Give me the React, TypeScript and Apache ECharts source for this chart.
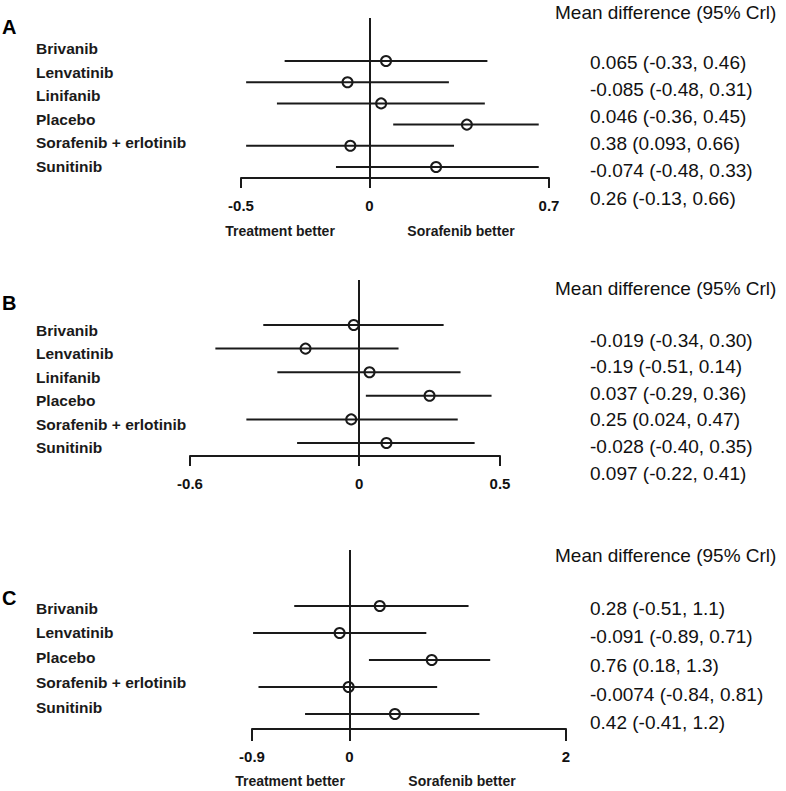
import React, { useEffect, useRef } from 'react';
import * as echarts from 'echarts';

// ---------- data ----------
const drugsA = ['Brivanib', 'Lenvatinib', 'Linifanib', 'Placebo', 'Sorafenib + erlotinib', 'Sunitinib'];
const meanA = [0.065, -0.085, 0.046, 0.38, -0.074, 0.26];
const lowA = [-0.33, -0.48, -0.36, 0.093, -0.48, -0.13];
const highA = [0.46, 0.31, 0.45, 0.66, 0.33, 0.66];
const ticksA = [-0.5, 0, 0.7];

const drugsB = ['Brivanib', 'Lenvatinib', 'Linifanib', 'Placebo', 'Sorafenib + erlotinib', 'Sunitinib'];
const meanB = [-0.019, -0.19, 0.037, 0.25, -0.028, 0.097];
const lowB = [-0.34, -0.51, -0.29, 0.024, -0.4, -0.22];
const highB = [0.3, 0.14, 0.36, 0.47, 0.35, 0.41];
const ticksB = [-0.6, 0, 0.5];

const drugsC = ['Brivanib', 'Lenvatinib', 'Placebo', 'Sorafenib + erlotinib', 'Sunitinib'];
const meanC = [0.28, -0.091, 0.76, -0.0074, 0.42];
const lowC = [-0.51, -0.89, 0.18, -0.84, -0.41];
const highC = [1.1, 0.71, 1.3, 0.81, 1.2];
const ticksC = [-0.9, 0, 2];

const panelLetters = ['A', 'B', 'C'];
const headerText = 'Mean difference (95% Crl)';
const leftNote = 'Treatment better';
const rightNote = 'Sorafenib better';

// ---------- layout (positions only) ----------
const FONT = '"Liberation Sans", Arial, Helvetica, sans-serif';
const INK = '#1a1a1a';

type Layout = {
  letterY: number;
  labelX: number; labelY0: number; labelStep: number;
  gridLeft: number; gridWidth: number; gridTop: number; gridHeight: number;
  rowTop: number; rowStep: number;
  tickMargin: number; tickLen: number;
  notes: boolean; notesY: number; noteLX: number; noteRX: number;
  headerY: number; valY0: number; valStep: number;
};

const layouts: Layout[] = [
  { letterY: 27, labelX: 36, labelY0: 48.5, labelStep: 23.5,
    gridLeft: 241, gridWidth: 308, gridTop: 18, gridHeight: 160,
    rowTop: 61, rowStep: 21.2, tickMargin: 20, tickLen: 10,
    notes: true, notesY: 231, noteLX: 280, noteRX: 461,
    headerY: 12, valY0: 62, valStep: 27.2 },
  { letterY: 303, labelX: 36, labelY0: 330, labelStep: 23.5,
    gridLeft: 190, gridWidth: 310, gridTop: 280, gridHeight: 176,
    rowTop: 325, rowStep: 23.6, tickMargin: 20, tickLen: 10,
    notes: false, notesY: 0, noteLX: 0, noteRX: 0,
    headerY: 288, valY0: 340, valStep: 26.6 },
  { letterY: 598, labelX: 36, labelY0: 608, labelStep: 24.8,
    gridLeft: 252, gridWidth: 314, gridTop: 550, gridHeight: 179,
    rowTop: 606, rowStep: 27, tickMargin: 20, tickLen: 12,
    notes: true, notesY: 781, noteLX: 290, noteRX: 462,
    headerY: 555, valY0: 608, valStep: 28.7 },
];

const panels = [
  { drugs: drugsA, mean: meanA, low: lowA, high: highA, ticks: ticksA },
  { drugs: drugsB, mean: meanB, low: lowB, high: highB, ticks: ticksB },
  { drugs: drugsC, mean: meanC, low: lowC, high: highC, ticks: ticksC },
];

const fmt = (v: number) => Number(v).toPrecision(2);

function buildOption() {
  const grid: any[] = [];
  const xAxis: any[] = [];
  const yAxis: any[] = [];
  const series: any[] = [];
  const graphic: any[] = [];

  panels.forEach((p, i) => {
    const L = layouts[i];
    const n = p.drugs.length;
    const bottom = L.gridTop + L.gridHeight;
    const yMin = -(L.rowTop - L.gridTop) / L.rowStep;
    const yMax = (n - 1) + (bottom - (L.rowTop + (n - 1) * L.rowStep)) / L.rowStep;

    grid.push({ left: L.gridLeft, top: L.gridTop, width: L.gridWidth, height: L.gridHeight, containLabel: false });

    xAxis.push({
      type: 'value', gridIndex: i,
      min: p.ticks[0], max: p.ticks[p.ticks.length - 1],
      axisLine: { show: true, onZero: false, lineStyle: { color: INK, width: 2 } },
      axisTick: { show: true, customValues: p.ticks, length: L.tickLen, inside: false, lineStyle: { color: INK, width: 2 } },
      axisLabel: {
        show: true, customValues: p.ticks, margin: L.tickMargin,
        color: '#111', fontFamily: FONT, fontSize: 15, fontWeight: 'bold',
        formatter: (v: number) => String(v),
        showMinLabel: true, showMaxLabel: true,
      },
      splitLine: { show: false },
    });

    yAxis.push({
      type: 'value', gridIndex: i, inverse: true, min: yMin, max: yMax, show: false,
      splitLine: { show: false },
    });

    series.push({
      type: 'custom', xAxisIndex: i, yAxisIndex: i,
      silent: true,
      data: p.drugs.map((_, k) => [k, p.low[k], p.high[k], p.mean[k]]),
      encode: { x: [1, 2, 3], y: 0 },
      renderItem: (params: any, api: any) => {
        const row = api.value(0);
        const a = api.coord([api.value(1), row]);
        const b = api.coord([api.value(2), row]);
        const m = api.coord([api.value(3), row]);
        return {
          type: 'group',
          children: [
            { type: 'line', shape: { x1: a[0], y1: a[1], x2: b[0], y2: b[1] },
              style: { stroke: INK, lineWidth: 2 } },
            { type: 'circle', shape: { cx: m[0], cy: m[1], r: 5 },
              style: { fill: 'rgba(255,255,255,0)', stroke: INK, lineWidth: 2 } },
          ],
        };
      },
      markLine: {
        silent: true, symbol: ['none', 'none'], label: { show: false },
        lineStyle: { color: INK, width: 2, type: 'solid' },
        emphasis: { disabled: true },
        data: [{ xAxis: 0 }],
      },
    });

    graphic.push({
      type: 'text', x: 2, y: L.letterY,
      style: { text: panelLetters[i], fontFamily: FONT, fontSize: 20, fontWeight: 'bold', fill: '#000', textAlign: 'left', textVerticalAlign: 'middle' },
    });
    p.drugs.forEach((d, k) => {
      graphic.push({
        type: 'text', x: L.labelX, y: L.labelY0 + k * L.labelStep,
        style: { text: d, fontFamily: FONT, fontSize: 15.5, fontWeight: 'bold', fill: '#1a1a1a', textAlign: 'left', textVerticalAlign: 'middle' },
      });
    });
    graphic.push({
      type: 'text', x: 555, y: L.headerY,
      style: { text: headerText, fontFamily: FONT, fontSize: 19, fill: '#111', textAlign: 'left', textVerticalAlign: 'middle' },
    });
    p.drugs.forEach((_, k) => {
      graphic.push({
        type: 'text', x: 590, y: L.valY0 + k * L.valStep,
        style: { text: `${fmt(p.mean[k])} (${fmt(p.low[k])}, ${fmt(p.high[k])})`, fontFamily: FONT, fontSize: 19, fill: '#111', textAlign: 'left', textVerticalAlign: 'middle' },
      });
    });
    if (L.notes) {
      graphic.push({
        type: 'text', x: L.noteLX, y: L.notesY,
        style: { text: leftNote, fontFamily: FONT, fontSize: 14, fontWeight: 'bold', fill: '#1a1a1a', textAlign: 'center', textVerticalAlign: 'middle' },
      });
      graphic.push({
        type: 'text', x: L.noteRX, y: L.notesY,
        style: { text: rightNote, fontFamily: FONT, fontSize: 14, fontWeight: 'bold', fill: '#1a1a1a', textAlign: 'center', textVerticalAlign: 'middle' },
      });
    }
  });

  return { animation: false, backgroundColor: '#fff', grid, xAxis, yAxis, series, graphic };
}

export default function App() {
  const ref = useRef<HTMLDivElement>(null);
  useEffect(() => {
    if (!ref.current) return;
    const chart = echarts.init(ref.current, null, { renderer: 'svg' });
    chart.setOption(buildOption() as any);
    return () => chart.dispose();
  }, []);
  return (
    <div
      ref={ref}
      style={{ position: 'fixed', left: 0, top: 0, width: 786, height: 791, background: '#fff' }}
    />
  );
}
